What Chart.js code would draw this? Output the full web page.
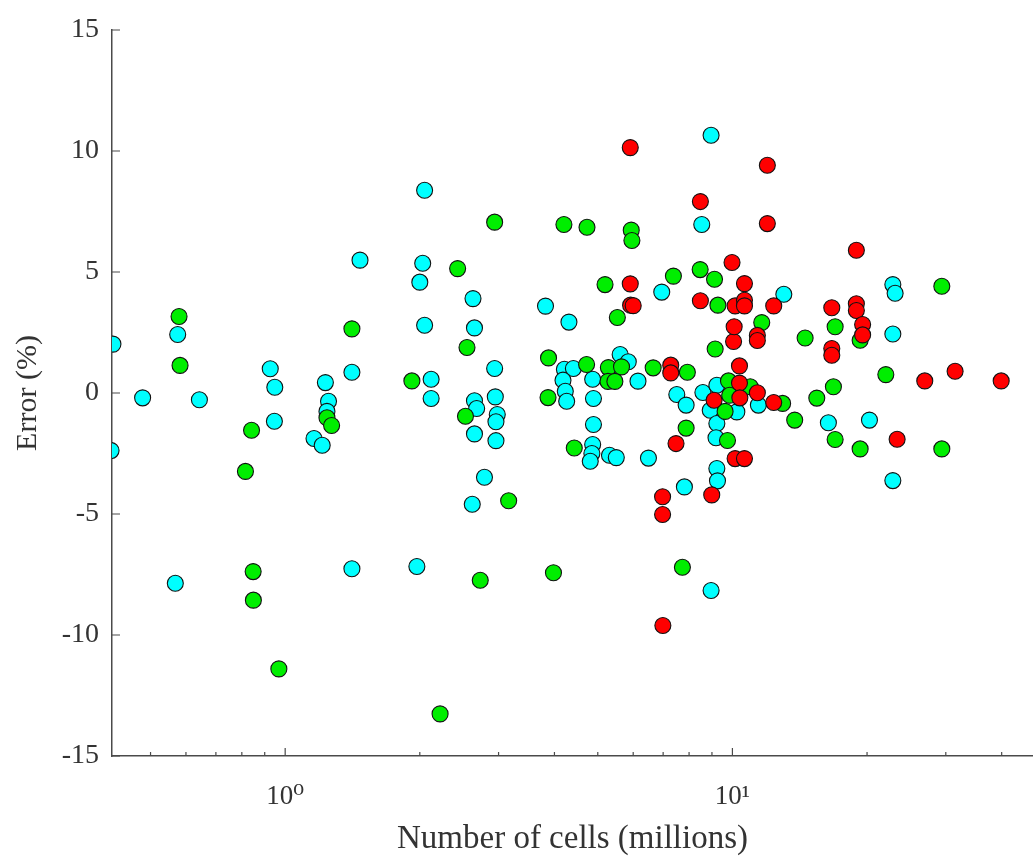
<!DOCTYPE html>
<html>
<head>
<meta charset="utf-8">
<script src="https://cdn.jsdelivr.net/npm/chart.js@4/dist/chart.umd.min.js"></script>
<style>
  body { margin: 0; background: #fff; }
  canvas { display: block; }
</style>
</head>
<body>
<canvas id="grafico" width="1033" height="856"></canvas>
<script>
// number of cells (millions) and error (%) per series
const cyanX = [0.412, 0.408, 0.480, 0.575, 0.568, 0.643, 0.926, 0.948, 0.946, 1.16,
  1.21, 1.23, 1.25, 1.24, 1.41, 1.41, 1.47, 2.05, 2.03, 2.00,
  2.05, 1.97, 2.12, 2.12, 2.63, 2.65, 2.65, 2.68, 2.65, 2.62,
  2.79, 2.94, 2.95, 2.98, 2.96, 2.96, 3.82, 4.31, 4.21, 4.41,
  4.18, 4.23, 4.26, 4.87, 4.89, 4.89, 4.87, 4.85, 4.81, 5.31,
  5.50, 5.61, 5.85, 6.15, 6.49, 6.95, 7.51, 7.88, 7.81, 8.54,
  8.59, 8.96, 9.23, 8.92, 9.23, 9.19, 9.23, 9.26, 8.96, 10.23,
  11.43, 13.03, 16.39, 20.25, 22.84, 23.11, 22.84, 22.84];
const cyanY = [2.02, -2.38, -0.20, 2.42, -7.86, -0.28, 1.00, 0.24, -1.17, -1.88,
  -2.16, 0.43, -0.34, -0.76, -7.26, 0.86, 5.49, 8.38, 5.36, 4.58,
  2.80, -7.17, 0.57, -0.23, 3.90, 2.69, -0.32, -0.64, -1.69, -4.60,
  -3.48, 1.01, -0.16, -0.89, -1.19, -1.97, 3.59, 2.93, 0.98, 1.01,
  0.53, 0.07, -0.34, 0.57, -0.23, -1.30, -2.13, -2.50, -2.82, -2.57,
  -2.67, 1.59, 1.29, 0.49, -2.69, 4.17, -0.06, -0.50, -3.88, 6.96,
  0.02, 10.65, 0.32, -0.71, -1.26, -1.85, -3.12, -3.63, -8.16, -0.78,
  -0.50, 4.08, -1.23, -1.12, 4.48, 4.12, 2.44, -3.62];

const greenX = [0.579, 0.582, 0.815, 0.841, 0.848, 0.849, 0.968, 1.24, 1.27, 1.41,
  1.92, 2.22, 2.43, 2.53, 2.55, 2.73, 2.94, 3.16, 3.87, 3.88,
  3.98, 4.20, 4.43, 4.72, 4.73, 5.19, 5.28, 5.65, 5.27, 5.46,
  5.53, 5.94, 5.96, 6.65, 7.38, 7.73, 7.88, 7.93, 8.47, 9.12,
  9.28, 9.15, 9.80, 9.86, 9.63, 9.75, 10.96, 11.63, 12.95, 13.78,
  14.54, 15.44, 16.82, 16.97, 16.97, 19.30, 19.30, 22.03, 29.39, 29.39];
const greenY = [3.16, 1.14, -3.24, -1.54, -7.38, -8.56, -11.40, -1.02, -1.34, 2.65,
  0.50, -13.26, 5.14, -0.96, 1.88, -7.74, 7.06, -4.45, -0.19, 1.45,
  -7.43, 6.96, -2.27, 1.18, 6.85, 4.48, 1.05, 1.08, 0.48, 0.48,
  3.12, 6.73, 6.30, 1.04, 4.83, -7.20, -1.45, 0.86, 5.10, 4.70,
  3.63, 1.82, 0.50, -0.09, -0.76, -1.96, 0.26, 2.91, -0.43, -1.12,
  2.27, -0.21, 0.26, 2.74, -1.92, 2.18, -2.31, 0.76, 4.41, -2.31];

const redX = [5.91, 5.91, 5.92, 6.00, 6.98, 6.98, 6.99, 7.28, 7.28, 7.48,
  8.48, 8.48, 8.99, 9.10, 9.98, 10.06, 10.09, 10.14, 10.14, 10.37,
  10.37, 10.39, 10.64, 10.64, 10.64, 10.64, 11.37, 11.37, 11.37, 11.97,
  11.97, 12.37, 12.37, 16.68, 16.68, 16.68, 18.93, 18.93, 18.93, 19.55,
  19.55, 23.35, 26.92, 31.47, 39.9];
const redY = [10.14, 4.51, 3.63, 3.61, -4.29, -5.02, -9.61, 1.15, 0.83, -2.09,
  7.91, 3.81, -4.21, -0.30, 5.39, 2.13, 2.74, 3.60, -2.71, 1.12,
  0.41, -0.20, 4.52, 3.83, 3.60, -2.71, 2.38, 2.17, 0.01, 9.41,
  7.00, 3.60, -0.39, 3.52, 1.84, 1.56, 5.90, 3.69, 3.41, 2.83,
  2.40, -1.91, 0.50, 0.90, 0.50];

// axis ticks
const xTicks = [0.5, 0.6, 0.7, 0.8, 0.9, 1, 2, 3, 4, 5, 6, 7, 8, 9, 10, 20, 30, 40];
const xMajor = [1, 10];
const xLabels = {1: '10\u2070', 10: '10\u00B9'};
const yTicks = [-15, -10, -5, 0, 5, 10, 15];

const axisColor = '#4a4a4a';
const textColor = '#333333';
const serif = "'Liberation Serif', 'DejaVu Serif', serif";

const pts = (xs, ys) => xs.map((v, i) => ({x: v, y: ys[i]}));

// tick marks point into the plot
const inwardTicks = {
  id: 'inwardTicks',
  beforeDatasetsDraw(chart) {
    const {ctx, scales: {x, y}} = chart;
    ctx.save();
    ctx.strokeStyle = axisColor;
    ctx.lineWidth = 1.2;
    ctx.beginPath();
    x.ticks.forEach(t => {
      const px = x.getPixelForValue(t.value);
      const len = xMajor.includes(t.value) ? 8 : 4;
      ctx.moveTo(px, x.top);
      ctx.lineTo(px, x.top - len);
    });
    y.ticks.forEach(t => {
      const py = y.getPixelForValue(t.value);
      ctx.moveTo(y.right, py);
      ctx.lineTo(y.right + 8, py);
    });
    ctx.stroke();
    ctx.restore();
  }
};

const ctx = document.getElementById('grafico');

new Chart(ctx, {
  type: 'scatter',
  data: {
    datasets: [
      { label: 'cyan', data: pts(cyanX, cyanY), backgroundColor: '#00ffff', order: 2 },
      { label: 'green', data: pts(greenX, greenY), backgroundColor: '#00ee00', order: 1 },
      { label: 'red', data: pts(redX, redY), backgroundColor: '#ff0000', order: 0 },
    ]
  },
  options: {
    responsive: false,
    animation: false,
    layout: { autoPadding: false, padding: { top: 30, right: 0, left: 0, bottom: 0 } },
    elements: {
      point: { radius: 8, borderWidth: 1.1, borderColor: '#111111', hoverRadius: 8 }
    },
    plugins: { legend: { display: false }, tooltip: { enabled: false } },
    scales: {
      x: {
        type: 'logarithmic',
        min: 0.41,
        max: 47,
        afterBuildTicks: s => { s.ticks = xTicks.map(v => ({value: v})); },
        afterFit: s => { s.height = 100; s.paddingLeft = 0; s.paddingRight = 0; },
        grid: { display: false },
        border: { display: true, color: axisColor, width: 1.5 },
        ticks: {
          autoSkip: false,
          maxRotation: 0,
          padding: 17,
          color: textColor,
          font: { family: serif, size: 27 },
          callback: v => xLabels[v] || ''
        },
        title: {
          display: true,
          text: 'Number of cells (millions)',
          color: textColor,
          font: { family: serif, size: 33, lineHeight: 1.2 },
          padding: { top: 0, bottom: -3 }
        }
      },
      y: {
        min: -15,
        max: 15,
        afterBuildTicks: s => { s.ticks = yTicks.map(v => ({value: v})); },
        afterFit: s => { s.width = 112; },
        grid: { display: false },
        border: { display: true, color: axisColor, width: 1.5 },
        ticks: {
          padding: 5,
          color: textColor,
          font: { family: serif, size: 28 }
        },
        title: {
          display: true,
          text: 'Error (%)',
          color: textColor,
          font: { family: serif, size: 30, lineHeight: 1.2 },
          padding: { top: 10, bottom: 0 }
        }
      }
    }
  },
  plugins: [inwardTicks]
});
</script>
</body>
</html>
